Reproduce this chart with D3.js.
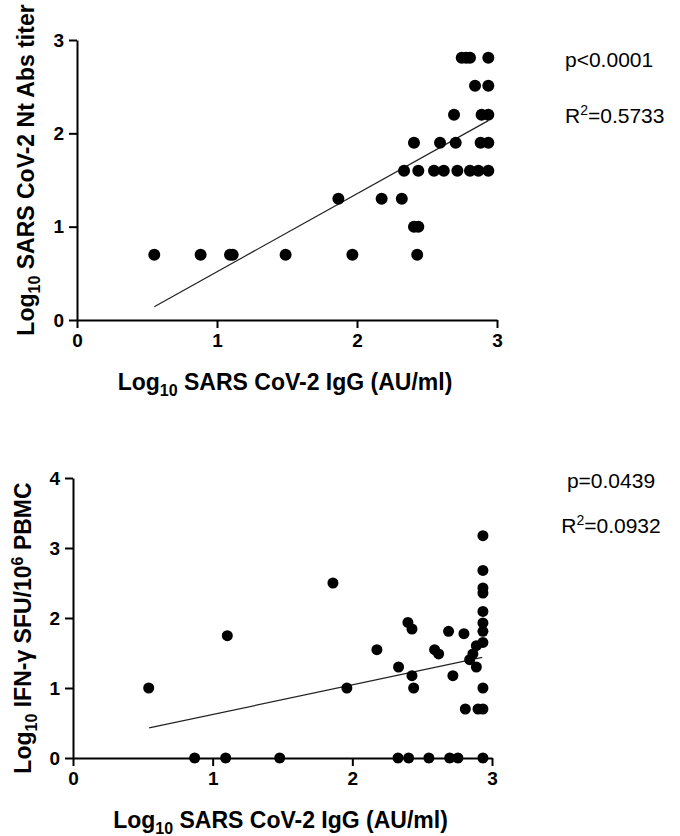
<!DOCTYPE html>
<html>
<head>
<meta charset="utf-8">
<script src="https://cdn.jsdelivr.net/npm/d3@7"></script>
<style>
  html, body { margin: 0; padding: 0; background: #fff; }
  svg { display: block; }
  text { font-family: "Liberation Sans", Arial, sans-serif; fill: #000; }
</style>
</head>
<body>
<svg id="chart" width="680" height="836"></svg>
<script>
// ---------- DATA ----------
const xTicks = [0, 1, 2, 3];
const yTicksTop = [0, 1, 2, 3];
const yTicksBottom = [0, 1, 2, 3, 4];

// Top panel: Log10 IgG vs Log10 Nt Abs titer
const topX = [0.552, 0.883, 1.093, 1.112, 1.49, 1.967, 2.43,
              2.407, 2.438,
              1.867, 2.176, 2.32,
              2.336, 2.438, 2.55, 2.62, 2.717, 2.807, 2.867, 2.938,
              2.407, 2.593, 2.705, 2.883, 2.938,
              2.693, 2.89, 2.938,
              2.843, 2.938,
              2.748, 2.78, 2.807, 2.938];
const topY = [0.70, 0.70, 0.70, 0.70, 0.70, 0.70, 0.70,
              1.0, 1.0,
              1.30, 1.30, 1.30,
              1.60, 1.60, 1.60, 1.60, 1.60, 1.60, 1.60, 1.60,
              1.90, 1.90, 1.90, 1.90, 1.90,
              2.20, 2.20, 2.20,
              2.51, 2.51,
              2.81, 2.81, 2.81, 2.81];
const topFitX = [0.552, 2.938];
const topFitY = [0.143, 2.136];

// Bottom panel: Log10 IgG vs Log10 IFN-g SFU/10^6 PBMC
const botX = [0.542, 1.105, 1.861, 1.961, 2.176, 2.331, 2.398, 2.427, 2.427, 2.439,
              2.589, 2.618, 2.689, 2.72, 2.799, 2.809, 2.84, 2.863, 2.888, 2.888,
              2.9, 2.935, 2.935, 2.935, 2.935, 2.935, 2.935, 2.935, 2.935, 2.935, 2.935,
              0.871, 1.093, 1.48, 2.327, 2.403, 2.548, 2.697, 2.756, 2.935];
const botY = [1.0, 1.747, 2.5, 1.0, 1.547, 1.30, 1.937, 1.843, 1.176, 1.0,
              1.547, 1.486, 1.809, 1.176, 1.776, 0.70, 1.404, 1.486, 1.604, 1.30,
              0.70, 0.70, 1.0, 1.651, 1.809, 1.929, 2.094, 2.357, 2.429, 2.68, 3.176,
              0, 0, 0, 0, 0, 0, 0, 0, 0];
const botFitX = [0.545, 2.93];
const botFitY = [0.43, 1.437];

// ---------- DRAW ----------
const svg = d3.select("#chart");

function panel(cfg) {
  const g = svg.append("g");
  const x = d3.scaleLinear().domain([0, 3]).range(cfg.xRange);
  const y = d3.scaleLinear().domain(cfg.yDomain).range(cfg.yRange);

  const xAxis = g.append("g")
    .attr("transform", `translate(0,${cfg.yRange[0]})`)
    .call(d3.axisBottom(x).tickValues(xTicks).tickFormat(d3.format("d")).tickSize(8).tickSizeOuter(0).tickPadding(6));
  const yAxis = g.append("g")
    .attr("transform", `translate(${cfg.xRange[0]},0)`)
    .call(d3.axisLeft(y).tickValues(cfg.yTicks).tickFormat(d3.format("d")).tickSize(8).tickSizeOuter(0).tickPadding(5));

  [xAxis, yAxis].forEach(a => {
    a.select(".domain").attr("stroke", "#000").attr("stroke-width", 2);
    a.selectAll(".tick line").attr("stroke", "#000").attr("stroke-width", 2);
    a.selectAll(".tick text")
      .style("font-family", '"Liberation Sans", Arial, sans-serif')
      .style("font-weight", "bold").style("font-size", "19px").attr("fill", "#000");
  });

  // fit line
  const fit = cfg.fitX.map((v, i) => [v, cfg.fitY[i]]);
  g.append("path")
    .datum(fit)
    .attr("d", d3.line().x(d => x(d[0])).y(d => y(d[1])))
    .attr("stroke", "#222").attr("stroke-width", 1.2).attr("fill", "none");

  // points
  const pts = cfg.px.map((v, i) => [v, cfg.py[i]]);
  g.append("g").selectAll("circle").data(pts).join("circle")
    .attr("cx", d => x(d[0])).attr("cy", d => y(d[1]))
    .attr("r", cfg.r).attr("fill", "#000");

  // x label
  const xl = g.append("text")
    .attr("x", (cfg.xRange[0] + cfg.xRange[1]) / 2 - 2)
    .attr("y", cfg.yRange[0] + 70)
    .attr("text-anchor", "middle")
    .style("font-weight", "bold").style("font-size", "23px");
  xl.append("tspan").text("Log");
  xl.append("tspan").text("10").attr("dy", 6).style("font-size", "16px");
  xl.append("tspan").text(" SARS CoV-2 IgG (AU/ml)").attr("dy", -6);

  // y label
  const yl = g.append("text")
    .attr("transform", `translate(${cfg.yLabelX},${cfg.yLabelY}) rotate(-90)`)
    .attr("text-anchor", "middle")
    .style("font-weight", "bold").style("font-size", "23px");
  cfg.yLabel(yl);

  // stats
  cfg.stats.forEach(s => {
    const t = g.append("text").attr("x", s.x).attr("y", s.y)
      .attr("text-anchor", s.anchor).style("font-size", "21px");
    s.build(t);
  });
}

panel({
  xRange: [77, 497], yDomain: [0, 3], yRange: [320, 40], yTicks: yTicksTop,
  px: topX, py: topY, fitX: topFitX, fitY: topFitY, r: 6,
  yLabelX: 34, yLabelY: 170,
  yLabel: t => {
    t.append("tspan").text("Log");
    t.append("tspan").text("10").attr("dy", 6).style("font-size", "16px");
    t.append("tspan").text(" SARS CoV-2 Nt Abs titer").attr("dy", -6);
  },
  stats: [
    { x: 565, y: 67, anchor: "start", build: t => t.text("p<0.0001") },
    { x: 565, y: 123, anchor: "start", build: t => {
        t.append("tspan").text("R");
        t.append("tspan").text("2").attr("dy", -8).style("font-size", "14px");
        t.append("tspan").text("=0.5733").attr("dy", 8);
      } }
  ]
});

panel({
  xRange: [73, 492], yDomain: [0, 4], yRange: [758, 478], yTicks: yTicksBottom,
  px: botX, py: botY, fitX: botFitX, fitY: botFitY, r: 5.5,
  yLabelX: 31, yLabelY: 628,
  yLabel: t => {
    t.append("tspan").text("Log");
    t.append("tspan").text("10").attr("dy", 6).style("font-size", "16px");
    t.append("tspan").text(" IFN-γ SFU/10").attr("dy", -6);
    t.append("tspan").text("6").attr("dy", -8).style("font-size", "16px");
    t.append("tspan").text(" PBMC").attr("dy", 8);
  },
  stats: [
    { x: 611, y: 488, anchor: "middle", build: t => t.text("p=0.0439") },
    { x: 611, y: 533, anchor: "middle", build: t => {
        t.append("tspan").text("R");
        t.append("tspan").text("2").attr("dy", -8).style("font-size", "14px");
        t.append("tspan").text("=0.0932").attr("dy", 8);
      } }
  ]
});
</script>
</body>
</html>
